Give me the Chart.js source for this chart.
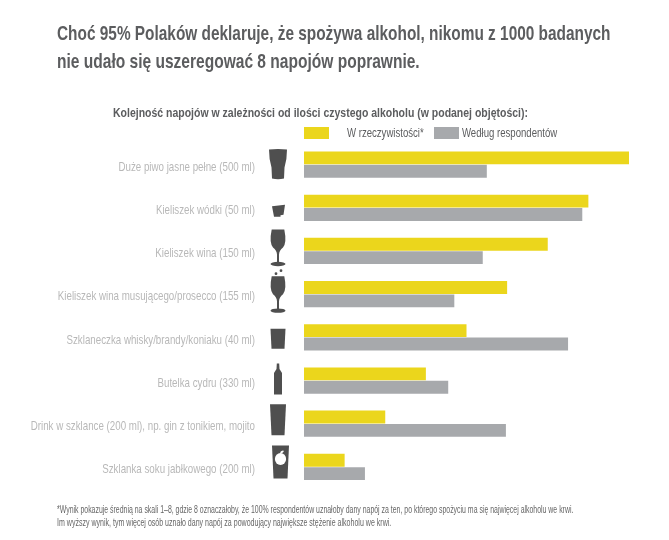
<!DOCTYPE html>
<html lang="pl">
<head>
<meta charset="utf-8">
<title>Kolejność napojów</title>
<script src="https://cdn.jsdelivr.net/npm/chart.js@4/dist/chart.umd.js"></script>
<style>
  html, body { margin: 0; background: #fff; }
  #wrap { position: relative; width: 669px; height: 540px; overflow: hidden; font-family: "Liberation Sans", sans-serif; color: #5c5d5f; }
  #wrap canvas { position: absolute; left: 0; top: 0; }
  /* no condensed face installed, so the text is squeezed sideways */
  .t { position: absolute; white-space: nowrap; line-height: 1; transform-origin: left center; }
  .title { left: 57px; font-size: 21px; font-weight: bold; transform: scaleX(.74); }
  .sub { left: 113px; top: 106px; font-size: 13.5px; font-weight: bold; transform: scaleX(.777); }
  .note { left: 57px; font-size: 10px; color: #666; transform: scaleX(.705); }
  .swatch { position: absolute; top: 127px; width: 25px; height: 12px; }
  .leg { top: 126px; font-size: 13.5px; transform: scaleX(.71); }
</style>
</head>
<body>
<div id="wrap">
  <canvas id="chart" width="669" height="540"></canvas>
  <div class="t title" style="top:22px;transform:scaleX(.733)">Choć 95% Polaków deklaruje, że spożywa alkohol, nikomu z 1000 badanych</div>
  <div class="t title" style="top:50px">nie udało się uszeregować 8 napojów poprawnie.</div>
  <div class="t sub">Kolejność napojów w zależności od ilości czystego alkoholu (w podanej objętości):</div>
  <div class="swatch" id="sw0" style="left:304px"></div>
  <div class="t leg" id="lg0" style="left:347px"></div>
  <div class="swatch" id="sw1" style="left:434px"></div>
  <div class="t leg" id="lg1" style="left:462px"></div>
  <div class="t note" style="top:505px;transform:scaleX(.693)">*Wynik pokazuje średnią na skali 1–8, gdzie 8 oznaczałoby, że 100% respondentów uznałoby dany napój za ten, po którego spożyciu ma się najwięcej alkoholu we krwi.</div>
  <div class="t note" style="top:518px">Im wyższy wynik, tym więcej osób uznało dany napój za powodujący największe stężenie alkoholu we krwi.</div>
</div>
<script>
const drinks = [
  "Duże piwo jasne pełne (500 ml)",
  "Kieliszek wódki (50 ml)",
  "Kieliszek wina (150 ml)",
  "Kieliszek wina musującego/prosecco (155 ml)",
  "Szklaneczka whisky/brandy/koniaku (40 ml)",
  "Butelka cydru (330 ml)",
  "Drink w szklance (200 ml), np. gin z tonikiem, mojito",
  "Szklanka soku jabłkowego (200 ml)"
]
const actual = [8, 7, 6, 5, 4, 3, 2, 1]
const perceived = [4.5, 6.85, 4.4, 3.7, 6.5, 3.55, 4.97, 1.5]
const seriesNames = ["W rzeczywistości*", "Według respondentów"]
const seriesColors = ["#ebd61c", "#a7a9ac"]
const iconKinds = ["beer", "shot", "wine", "prosecco", "whisky", "bottle", "tall", "juice"]

seriesNames.forEach((name, i) => {
  document.getElementById(`lg${i}`).textContent = name
  document.getElementById(`sw${i}`).style.background = seriesColors[i]
})

// silhouettes, drawn around (0, 0) = middle of the icon
function poly(ctx, pts) {
  ctx.beginPath()
  pts.forEach((p, i) => i ? ctx.lineTo(p[0], p[1]) : ctx.moveTo(p[0], p[1]))
  ctx.closePath()
  ctx.fill()
}

function wine(ctx) {
  ctx.beginPath()
  ctx.moveTo(-6.3, -18)
  ctx.lineTo(6.3, -18)
  ctx.quadraticCurveTo(9, -5, 5, 0)
  ctx.quadraticCurveTo(1.2, 3, 1, 7)
  ctx.lineTo(1, 15)
  ctx.lineTo(-1, 15)
  ctx.lineTo(-1, 7)
  ctx.quadraticCurveTo(-1.2, 3, -5, 0)
  ctx.quadraticCurveTo(-9, -5, -6.3, -18)
  ctx.fill()
  ctx.beginPath()
  ctx.ellipse(0, 16.5, 7.5, 2.2, 0, 0, Math.PI * 2)
  ctx.fill()
}

const icons = {
  beer(ctx) {
    ctx.beginPath()
    ctx.moveTo(-9, -15)
    ctx.quadraticCurveTo(0, -16, 9, -15)
    ctx.quadraticCurveTo(9, -5, 6.5, 3)
    ctx.lineTo(6, 14)
    ctx.quadraticCurveTo(0, 15.5, -6, 14)
    ctx.lineTo(-6.5, 3)
    ctx.quadraticCurveTo(-9, -5, -9, -15)
    ctx.fill()
  },
  shot(ctx) {
    ctx.translate(0.5, 3)
    poly(ctx, [[-6.5, -4.5], [6.5, -6], [5, 4], [2, 4.5], [2, 6], [-4.5, 6]])
  },
  wine(ctx) {
    ctx.translate(0, -3.5)
    wine(ctx)
  },
  prosecco(ctx) {
    wine(ctx)
    ctx.beginPath()
    ctx.arc(-2, -20.5, 1.4, 0, Math.PI * 2)
    ctx.arc(3, -23.5, 1.4, 0, Math.PI * 2)
    ctx.fill()
  },
  whisky(ctx) {
    ctx.translate(0, 1.5)
    poly(ctx, [[-7.5, -10], [7.5, -10], [6.5, 10], [-6.5, 10]])
  },
  bottle(ctx) {
    ctx.translate(0, -1.5)
    poly(ctx, [[-1.2, -15.5], [1.2, -15.5], [1.5, -10], [4, -6], [4, 15.5], [-4, 15.5], [-4, -6], [-1.5, -10]])
  },
  tall(ctx) {
    ctx.translate(0, -4)
    poly(ctx, [[-8, -15.5], [8, -15.5], [6.5, 15.5], [-6.5, 15.5]])
  },
  juice(ctx) {
    ctx.translate(2.5, -5)
    poly(ctx, [[-8.5, -16.5], [8.5, -16.5], [7, 16.5], [-7, 16.5]])
    ctx.fillStyle = "#fff"
    ctx.beginPath()
    ctx.ellipse(0, -3, 5.6, 6, 0, 0, Math.PI * 2)
    ctx.fill()
    ctx.beginPath()
    ctx.ellipse(1.5, -10, 2, 1, -0.6, 0, Math.PI * 2)
    ctx.fill()
  }
}

const iconPlugin = {
  id: "drinkIcons",
  afterDraw(chart) {
    const { ctx, scales } = chart
    iconKinds.forEach((kind, i) => {
      ctx.save()
      ctx.translate(scales.x.left - 26, scales.y.getPixelForValue(i))
      ctx.fillStyle = "#4f4f4f"
      icons[kind](ctx)
      ctx.restore()
    })
  }
}

// category labels, squeezed like the rest of the text
const labelPlugin = {
  id: "narrowLabels",
  afterDraw(chart) {
    const { ctx, scales } = chart
    drinks.forEach((_, i) => {
      ctx.save()
      ctx.translate(scales.x.left - 49, scales.y.getPixelForValue(i) + 2.5)
      ctx.scale(0.722, 1)
      ctx.font = "13.5px 'Liberation Sans', sans-serif"
      ctx.fillStyle = "#b8b8b8"
      ctx.textAlign = "right"
      ctx.textBaseline = "middle"
      ctx.fillText(scales.y.getLabelForValue(i), 0, 0)
      ctx.restore()
    })
  }
}

new Chart(document.getElementById("chart"), {
  type: "bar",
  plugins: [iconPlugin, labelPlugin],
  data: {
    labels: drinks,
    datasets: [
      { label: seriesNames[0], data: actual, backgroundColor: seriesColors[0] },
      { label: seriesNames[1], data: perceived, backgroundColor: seriesColors[1] }
    ]
  },
  options: {
    indexAxis: "y",
    responsive: false,
    animation: false,
    categoryPercentage: 0.62,
    barPercentage: 0.96,
    layout: { padding: { top: 143, bottom: 51.5, right: 40 } },
    plugins: { legend: { display: false }, tooltip: { enabled: false }, title: { display: false } },
    scales: {
      x: { display: false, min: 0, max: 8 },
      y: {
        afterFit(scale) { scale.width = 304 },
        grid: { display: false },
        border: { display: false },
        ticks: { display: false }
      }
    }
  }
})
</script>
</body>
</html>
